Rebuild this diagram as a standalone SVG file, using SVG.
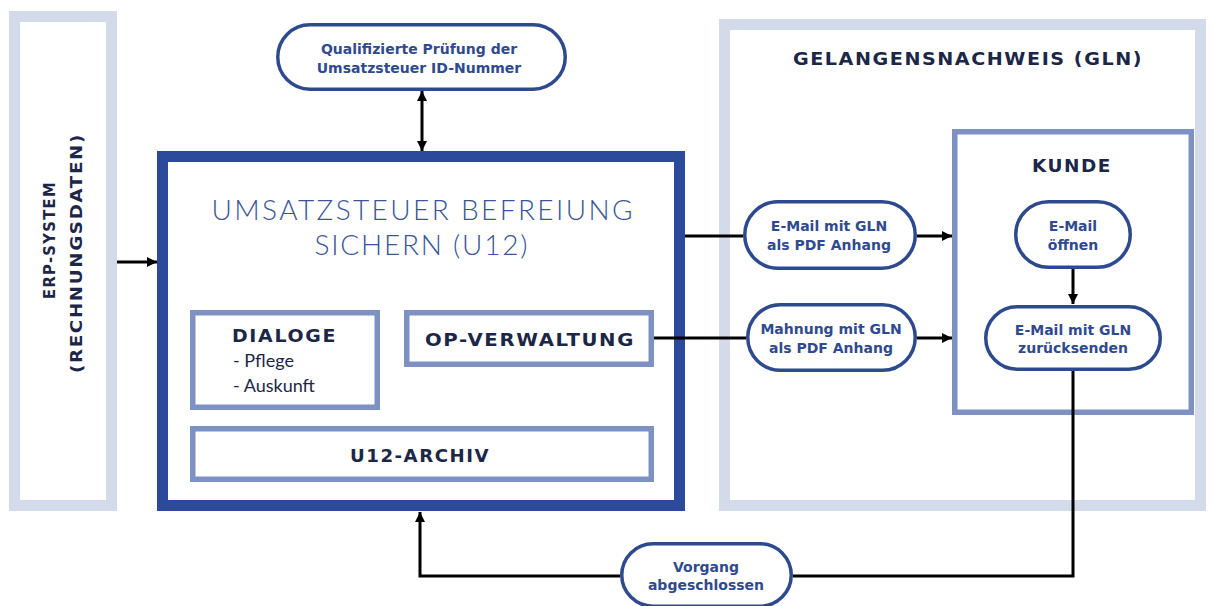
<svg xmlns="http://www.w3.org/2000/svg" width="1214" height="606" viewBox="0 0 1214 606">
  <defs>
    <marker id="arrow" viewBox="0 0 10 10" refX="10" refY="5" markerWidth="10" markerHeight="10" markerUnits="userSpaceOnUse" orient="auto-start-reverse">
      <path d="M0,0 L10,5 L0,10 z" fill="#000"/>
    </marker>
    <style>
      .outer { fill: #fff; stroke: #d3dbea; stroke-width: 11; }
      .main { fill: #fff; stroke: #2b4a9b; stroke-width: 11; }
      .inner { fill: #fff; stroke: #7d91c3; stroke-width: 5.5; }
      .pill { fill: #fff; stroke: #2e4a8e; stroke-width: 3.5; }
      .conn { fill: none; stroke: #000; stroke-width: 3; }
      .caps { font-family: "DejaVu Sans", Lato, sans-serif; font-weight: 700; fill: #1c2647; text-anchor: middle; letter-spacing: 1.5px; }
      .pt { font-family: "DejaVu Sans", "Liberation Sans", sans-serif; font-weight: 700; font-size: 14px; fill: #2f4a8f; text-anchor: middle; }
      .title { font-family: Lato, "Liberation Sans", sans-serif; font-weight: 300; font-size: 28px; fill: #3b5598; text-anchor: middle; }
      .sub { font-family: Lato, "Liberation Sans", sans-serif; font-weight: 400; font-size: 18px; fill: #1c2647; }
    </style>
  </defs>

  <g id="erp">
    <rect class="outer" x="14.5" y="16.5" width="97" height="489"/>
    <text class="caps" font-size="16.5" textLength="118" lengthAdjust="spacingAndGlyphs" transform="translate(55,240) rotate(-90)">ERP-SYSTEM</text>
    <text class="caps" font-size="16.5" textLength="240" lengthAdjust="spacingAndGlyphs" transform="translate(82,253) rotate(-90)">(RECHNUNGSDATEN)</text>
  </g>

  <g id="gln">
    <rect class="outer" x="724.5" y="24.5" width="476" height="481"/>
    <text class="caps" x="968" y="65" font-size="18.5" textLength="350" lengthAdjust="spacingAndGlyphs">GELANGENSNACHWEIS (GLN)</text>
  </g>

  <g id="main">
    <rect class="main" x="162.5" y="156.5" width="517" height="349"/>
    <text class="title" x="422" y="220" textLength="421" lengthAdjust="spacing">UMSATZSTEUER BEFREIUNG</text>
    <text class="title" x="421" y="255" textLength="213" lengthAdjust="spacing">SICHERN (U12)</text>
  </g>

  <g id="dialoge">
    <rect class="inner" x="192.75" y="312.75" width="184.5" height="94.5"/>
    <text class="caps" x="232" y="342" font-size="17" textLength="105" lengthAdjust="spacingAndGlyphs" style="text-anchor:start">DIALOGE</text>
    <text class="sub" x="233" y="367">- Pflege</text>
    <text class="sub" x="233" y="392">- Auskunft</text>
  </g>

  <g id="op-verwaltung">
    <rect class="inner" x="406.75" y="312.75" width="244.5" height="51.5"/>
    <text class="caps" x="530" y="346" font-size="18" textLength="210" lengthAdjust="spacingAndGlyphs">OP-VERWALTUNG</text>
  </g>

  <g id="u12-archiv">
    <rect class="inner" x="192.75" y="428.75" width="458.5" height="50.5"/>
    <text class="caps" x="420" y="462" font-size="18" textLength="140" lengthAdjust="spacingAndGlyphs">U12-ARCHIV</text>
  </g>

  <g id="kunde">
    <rect class="inner" x="954.75" y="131.75" width="236.5" height="280.5"/>
    <text class="caps" x="1072" y="172" font-size="18" textLength="80" lengthAdjust="spacingAndGlyphs">KUNDE</text>
  </g>

  <g id="connectors">
    <line class="conn" x1="117" y1="262" x2="157" y2="262" marker-end="url(#arrow)"/>
    <line class="conn" x1="422" y1="91" x2="422" y2="151" marker-start="url(#arrow)" marker-end="url(#arrow)"/>
    <line class="conn" x1="685" y1="236" x2="743" y2="236"/>
    <line class="conn" x1="654" y1="338" x2="746" y2="338"/>
    <line class="conn" x1="917" y1="236" x2="952" y2="236" marker-end="url(#arrow)"/>
    <line class="conn" x1="917" y1="338" x2="952" y2="338" marker-end="url(#arrow)"/>
    <line class="conn" x1="1073" y1="269" x2="1073" y2="304" marker-end="url(#arrow)"/>
    <polyline class="conn" points="1073,371 1073,576 793,576"/>
    <polyline class="conn" points="620,576 420,576 420,512" marker-end="url(#arrow)"/>
  </g>

  <g id="pruefung">
    <rect class="pill" x="277.75" y="24.75" width="287.5" height="64.5" rx="32.25"/>
    <text class="pt" x="419" y="54">Qualifizierte Prüfung der</text>
    <text class="pt" x="419" y="73">Umsatzsteuer ID-Nummer</text>
  </g>

  <g id="email-gln">
    <rect class="pill" x="744.75" y="201.75" width="170.5" height="66.5" rx="33.25"/>
    <text class="pt" x="829" y="231">E-Mail mit GLN</text>
    <text class="pt" x="829" y="250">als PDF Anhang</text>
  </g>

  <g id="mahnung-gln">
    <rect class="pill" x="747.75" y="304.75" width="167.5" height="65.5" rx="32.75"/>
    <text class="pt" x="831" y="334">Mahnung mit GLN</text>
    <text class="pt" x="831" y="353">als PDF Anhang</text>
  </g>

  <g id="email-oeffnen">
    <rect class="pill" x="1015.75" y="201.75" width="114.5" height="65.5" rx="32.75"/>
    <text class="pt" x="1073" y="231">E-Mail</text>
    <text class="pt" x="1073" y="250">öffnen</text>
  </g>

  <g id="email-zuruecksenden">
    <rect class="pill" x="985.75" y="306.75" width="174.5" height="62.5" rx="31.25"/>
    <text class="pt" x="1073" y="335">E-Mail mit GLN</text>
    <text class="pt" x="1073" y="353">zurücksenden</text>
  </g>

  <g id="vorgang">
    <rect class="pill" x="621.75" y="543.75" width="169.5" height="62.5" rx="31.25"/>
    <text class="pt" x="706" y="572">Vorgang</text>
    <text class="pt" x="706" y="590">abgeschlossen</text>
  </g>
</svg>
